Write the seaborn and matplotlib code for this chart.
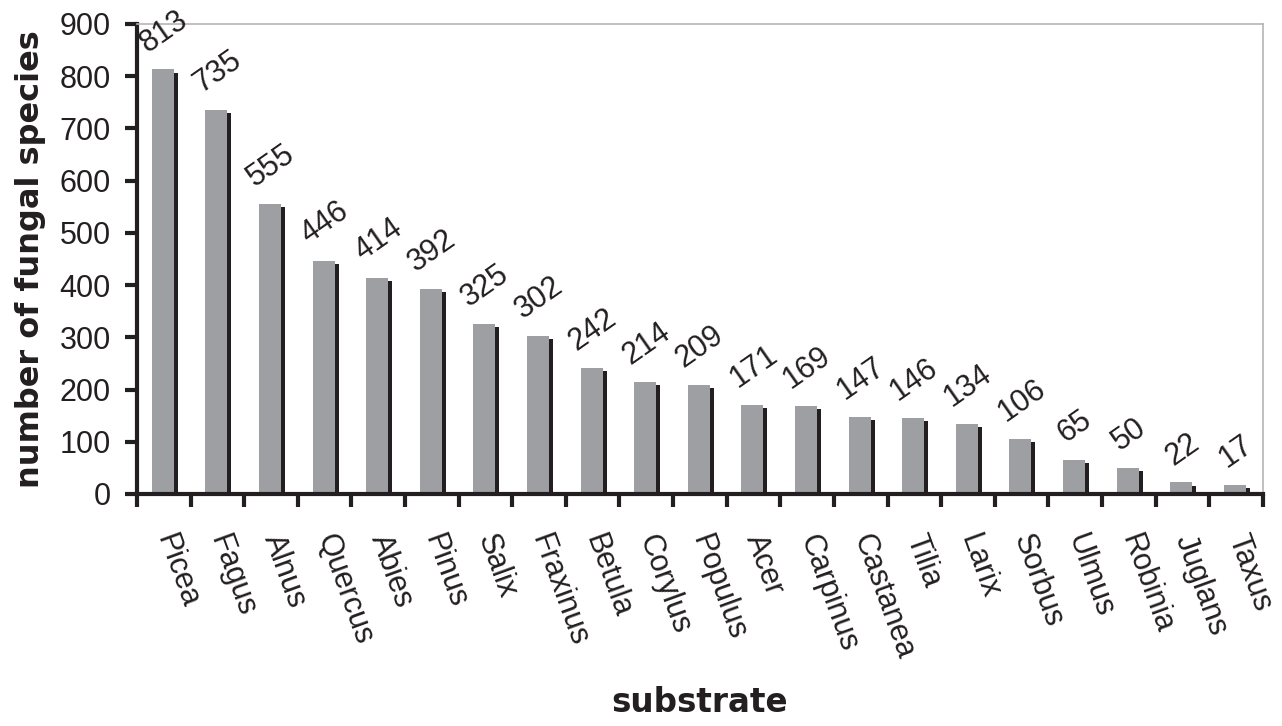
import matplotlib
matplotlib.use("Agg")
import matplotlib.pyplot as plt
import seaborn as sns
import numpy as np
import pandas as pd

substrates = ["Picea", "Fagus", "Alnus", "Quercus", "Abies", "Pinus", "Salix",
              "Fraxinus", "Betula", "Corylus", "Populus", "Acer", "Carpinus",
              "Castanea", "Tilia", "Larix", "Sorbus", "Ulmus", "Robinia",
              "Juglans", "Taxus"]
species_counts = [813, 735, 555, 446, 414, 392, 325, 302, 242, 214, 209, 171,
                  169, 147, 146, 134, 106, 65, 50, 22, 17]
y_ticks = [0, 100, 200, 300, 400, 500, 600, 700, 800, 900]

df = pd.DataFrame({"substrate": substrates, "count": species_counts})

sns.set_theme(style="white")
plt.rcParams["font.family"] = ["Liberation Sans", "DejaVu Sans"]

ink = "#231f20"
fs = 22

fig = plt.figure(figsize=(12.82, 7.26), dpi=100)
ax = fig.add_axes([0.1069, 0.3196, 0.8781, 0.6474])

bar_w = 0.41
shift = -0.02
shadow_dx = 0.075
x = np.arange(len(substrates))

# dark shadow behind each bar, slightly to the right and lower
shadow_h = np.clip(np.array(species_counts) - 6, 0, None)
ax.bar(x + shift + shadow_dx, shadow_h, width=bar_w, color=ink,
       linewidth=0, zorder=1)

sns.barplot(data=df, x="substrate", y="count", color="#9d9fa2", width=bar_w,
            saturation=1, ax=ax, zorder=2, linewidth=0)
for p in ax.patches[len(substrates):]:
    p.set_x(p.get_x() + shift)

for xi, v in zip(x, species_counts):
    ax.annotate(str(v), (xi, v), xytext=(0, 8), textcoords="offset points",
                ha="center", va="bottom", rotation=35, fontsize=fs,
                color=ink, zorder=3, annotation_clip=False)

ax.set_xlim(-0.5, len(substrates) - 0.5)
ax.set_ylim(0, 900)
ax.set_yticks(y_ticks)
ax.set_yticklabels([str(t) for t in y_ticks], fontsize=fs, color=ink)

ax.set_xticks(x)
ax.set_xticklabels(substrates, rotation=-70, ha="left", va="center",
                   rotation_mode="anchor", fontsize=fs, color=ink)
ax.set_xticks(np.arange(-0.5, len(substrates)), minor=True)
ax.tick_params(axis="x", which="major", length=0, pad=30)
ax.tick_params(axis="x", which="minor", length=9, width=3,
               color=ink, direction="out", bottom=True)
ax.tick_params(axis="y", length=9, width=3, color=ink,
               direction="out", left=True, pad=10)

for side in ["left", "bottom"]:
    ax.spines[side].set_color(ink)
    ax.spines[side].set_linewidth(3)
for side in ["top", "right"]:
    ax.spines[side].set_color("#b5b5b5")
    ax.spines[side].set_linewidth(1.2)

ax.set_xlabel("substrate", fontsize=23.5, fontweight="bold",
              family="DejaVu Sans", color=ink)
ax.set_ylabel("number of fungal species", fontsize=23, fontweight="bold",
              family="DejaVu Sans", color=ink)
ax.xaxis.label.set_va("center")
ax.yaxis.label.set_va("center")
ax.xaxis.set_label_coords(0.5, -(703 - 494) / 470)
ax.yaxis.set_label_coords(-(137 - 30) / 1126, 0.5)

fig.savefig("out.png", dpi=100, facecolor="white")
